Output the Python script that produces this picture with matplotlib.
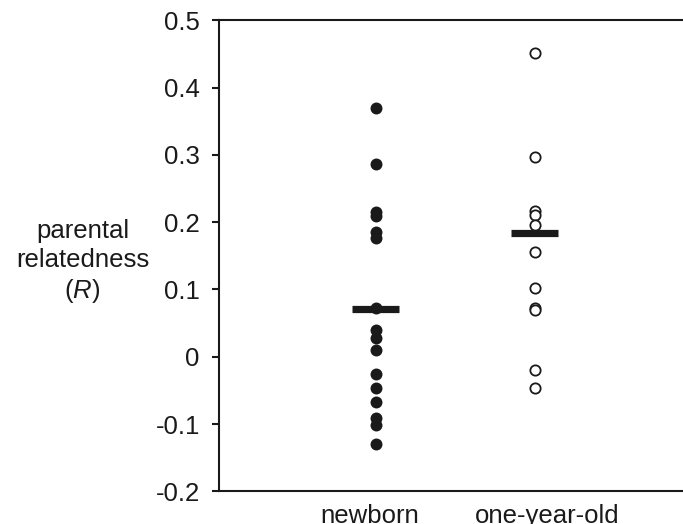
import matplotlib
matplotlib.use("Agg")
import matplotlib.pyplot as plt
import matplotlib.transforms as mtransforms
import numpy as np

# values
groups = ["newborn", "one-year-old"]
newborn = [0.369, 0.286, 0.215, 0.209, 0.185, 0.176, 0.072, 0.040, 0.028,
           0.010, -0.026, -0.047, -0.068, -0.091, -0.101, -0.130]
one_year = [0.452, 0.297, 0.217, 0.210, 0.196, 0.156, 0.102, 0.072, 0.070,
            -0.020, -0.047]
means = [0.0706, 0.184]
yticks = [-0.2, -0.1, 0, 0.1, 0.2, 0.3, 0.4, 0.5]
ytick_labels = ["-0.2", "-0.1", "0", "0.1", "0.2", "0.3", "0.4", "0.5"]

plt.rcParams["font.family"] = ["Liberation Sans", "DejaVu Sans"]
plt.rcParams["mathtext.fontset"] = "custom"
plt.rcParams["mathtext.rm"] = "Liberation Sans"
plt.rcParams["mathtext.it"] = "Liberation Sans:italic"
ink = "#1a1a1a"

fig = plt.figure(figsize=(6.83, 5.24), dpi=100)
ax = fig.add_axes([0.321, 0.0624, 0.679, 0.899])

x = np.arange(1, len(groups) + 1)
ax.plot(np.full(len(newborn), x[0]), newborn, "o", ms=8.6,
        mfc=ink, mec=ink, mew=0, zorder=3)
ax.plot(np.full(len(one_year), x[1]), one_year, "o", ms=7.4,
        mfc="white", mec=ink, mew=1.3, zorder=3)
ax.hlines(means, x - 0.148, x + 0.148, colors=ink, lw=5.2, zorder=4)

ax.set_xlim(0.0145, 2.931)
ax.set_ylim(-0.2, 0.5)
ax.set_xticks(x)
ax.set_xticklabels(groups)
ax.set_yticks(yticks)
ax.set_yticklabels(ytick_labels)

for side in ["left", "top", "bottom"]:
    ax.spines[side].set_linewidth(1.5)
    ax.spines[side].set_color(ink)
ax.spines["right"].set_visible(False)

ax.tick_params(axis="x", length=0, pad=9, labelsize=18.5, labelcolor=ink)
ax.tick_params(axis="y", length=5, width=1.5, pad=9, labelsize=18.5,
               color=ink, labelcolor=ink)

# the category labels sit a little off the point columns in the reference
for lab, dx in zip(ax.get_xticklabels(), [-6, 12]):
    lab.set_transform(lab.get_transform() +
                      mtransforms.ScaledTranslation(dx / 100, 0, fig.dpi_scale_trans))

ax.set_ylabel("parental\nrelatedness\n($\\mathit{R}$)", rotation=0,
              fontsize=18.5, color=ink, ha="center", va="center",
              linespacing=1.25)
ax.yaxis.set_label_coords(-0.295, 0.487)

fig.savefig("out.png", dpi=100)
